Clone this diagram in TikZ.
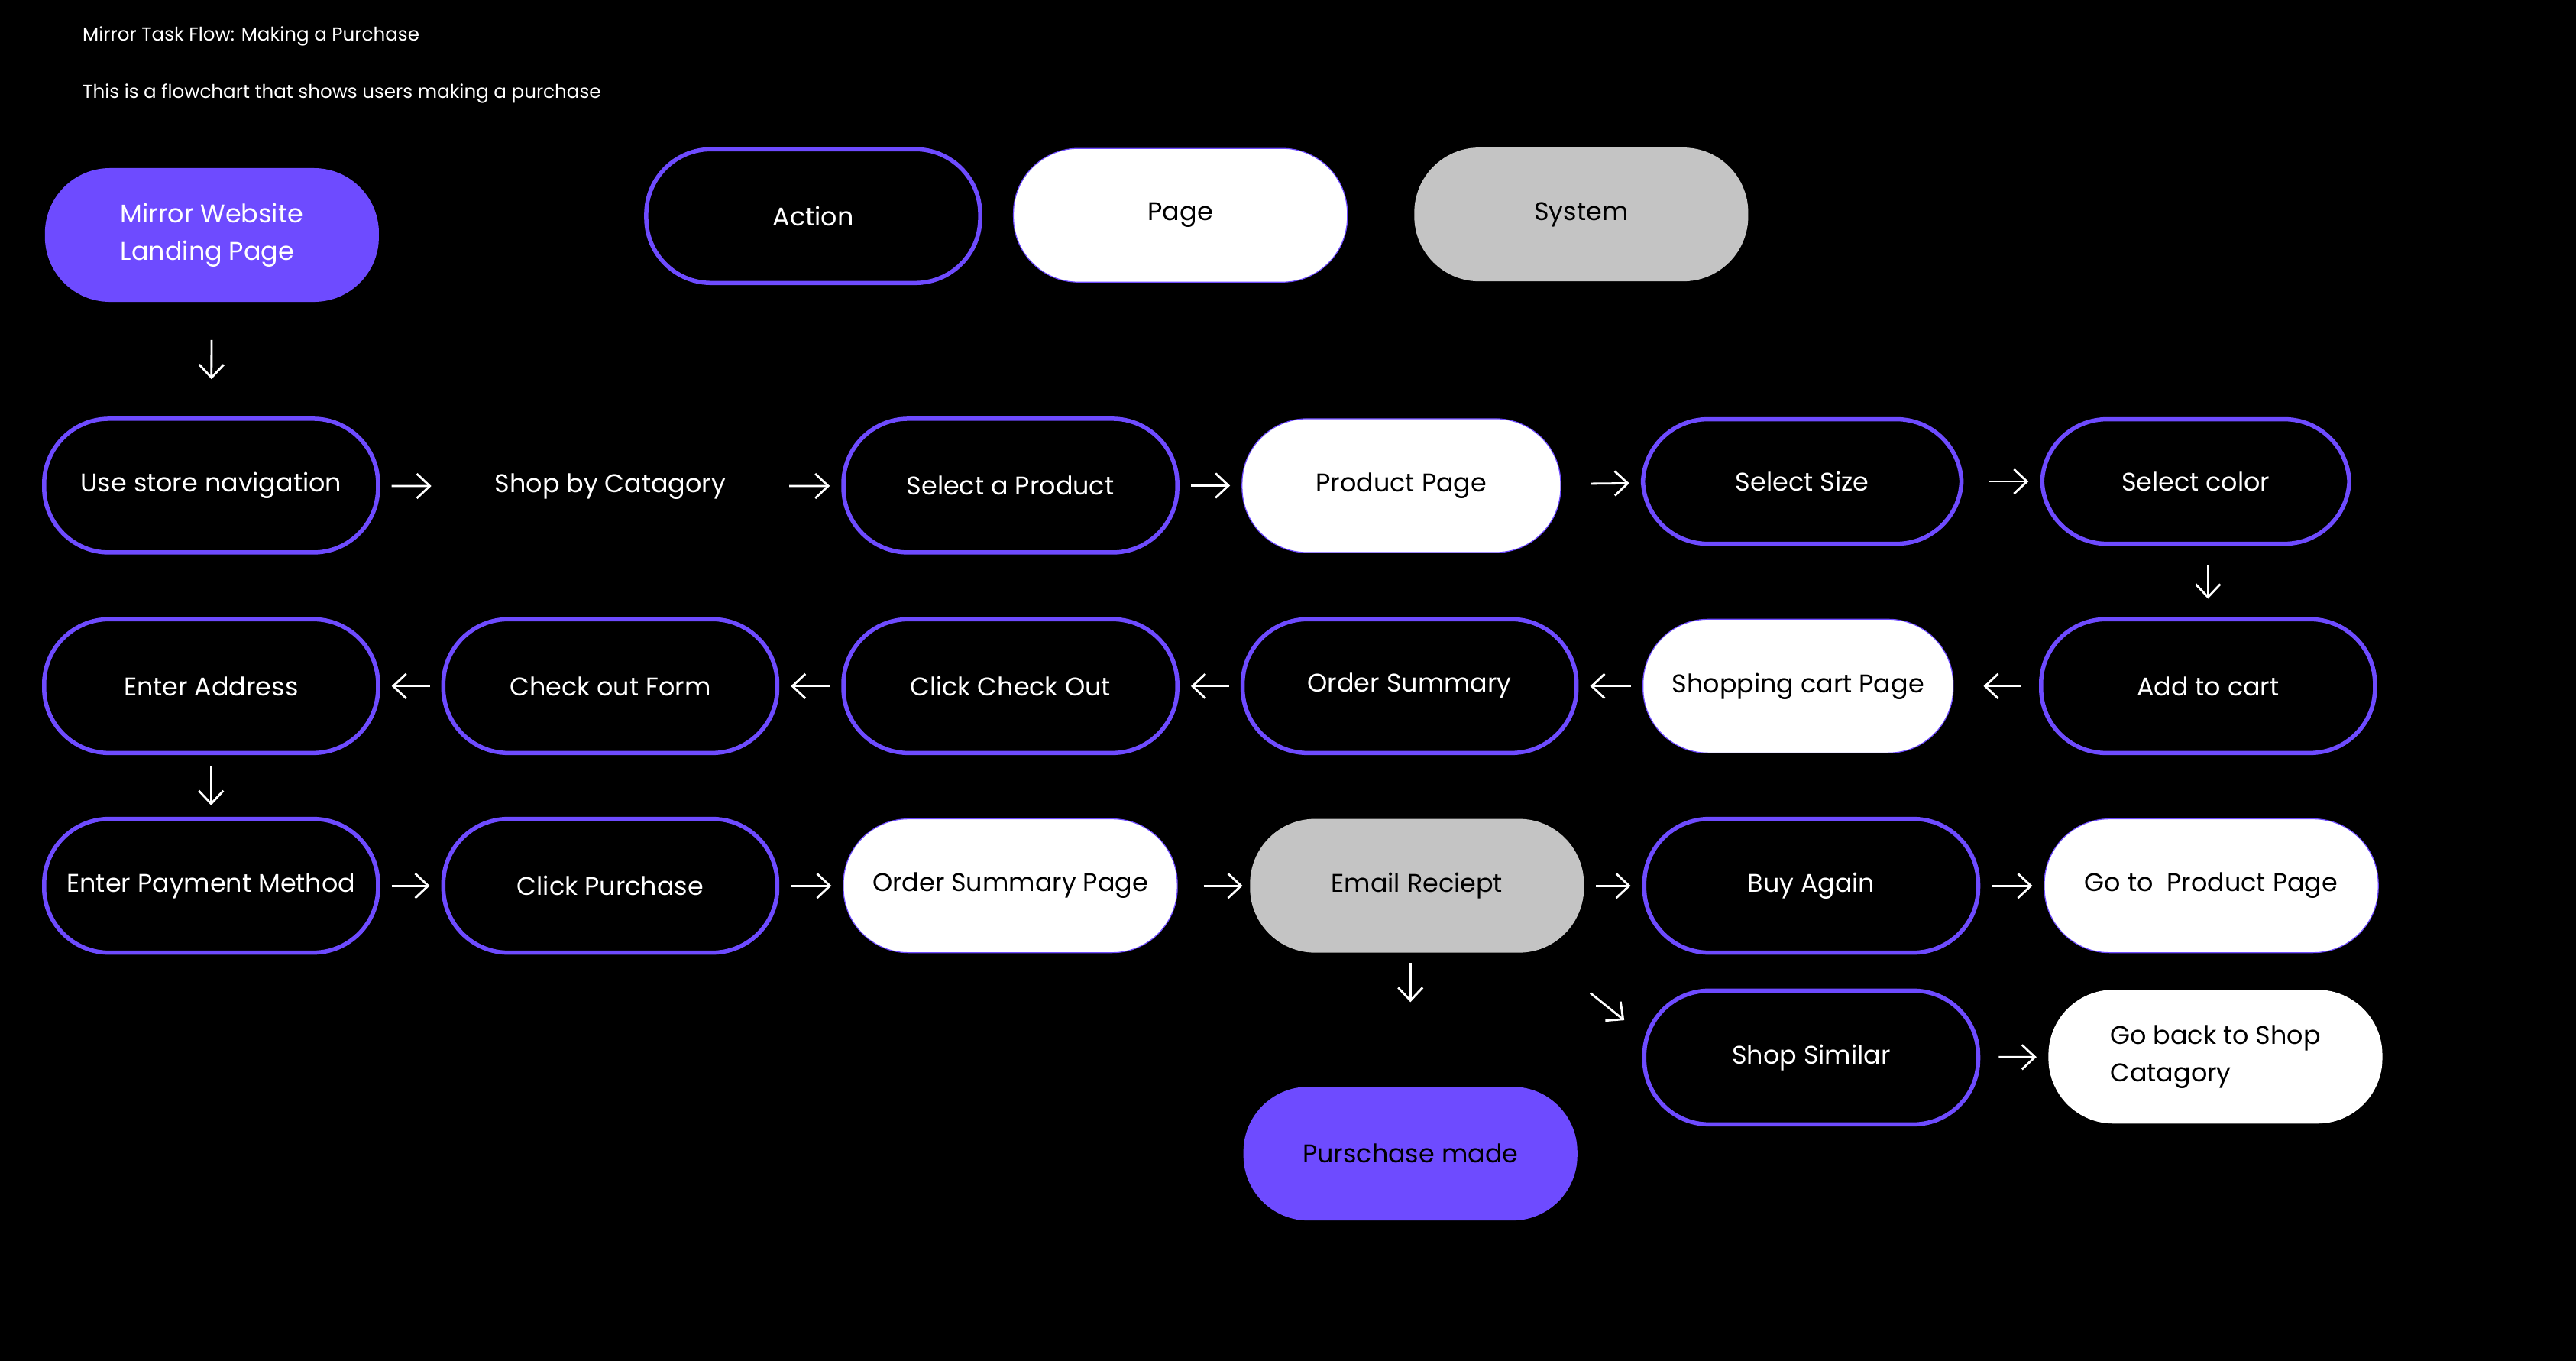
\documentclass[tikz,border=0pt]{standalone}
\usepackage{fontspec}
\setmainfont{Poppins}
\usetikzlibrary{arrows.meta}
\definecolor{mPurple}{HTML}{6E4BFF}
\definecolor{mGray}{HTML}{C4C4C4}

\begin{document}
\begin{tikzpicture}[x=0.021505cm,y=-0.021505cm]
    \tikzset{
        stage/.style={minimum width=4.37cm,minimum height=1.75cm,rounded corners=0.85cm,inner sep=0pt,align=left,font=\fontsize{9.5}{14}\selectfont,text=white},
        action/.style={stage,draw=mPurple,line width=0.055cm,fill=black},
        page/.style={stage,draw=mPurple,line width=0.012cm,fill=white,text=black},
        system/.style={stage,fill=mGray,text=black},
        start/.style={stage,fill=mPurple},
        note/.style={anchor=west,inner sep=0pt,text=white,font=\fontsize{7}{8}\selectfont},
        flow/.style={white,line width=0.028cm,-{Straight Barb[length=0.17cm,width=0.32cm]},shorten <=0.15cm,shorten >=0.15cm}
    };
    \fill[black] (0,0) rectangle (1568,828);
    \node[note] (title) at (50,22) {Mirror Task Flow: Making a Purchase};
    \node[note] (subtitle) at (50,57) {This is a flowchart that shows users making a purchase};

    \node[start] (landing) at (129,143) {Mirror Website\\Landing Page};
    \node[action] (legAction) at (495,131.5) {Action};
    \node[page] (legPage) at (718.5,131) {Page};
    \node[system] (legSystem) at (962.5,130.5) {System};

    \node[action] (nav) at (128.5,295.5) {Use store navigation};
    \node[stage] (shopCat) at (371.5,296) {Shop by Catagory};
    \node[action] (selProduct) at (615,295.5) {Select a Product};
    \node[page,minimum width=4.17cm] (prodPage) at (853,295.5) {Product Page};
    \node[action,minimum width=4.17cm,minimum height=1.63cm] (selSize) at (1097,293) {Select Size};
    \node[action,minimum width=4.02cm,minimum height=1.63cm] (selColor) at (1336.5,293) {Select color};

    \node[action] (address) at (128.5,417.5) {Enter Address};
    \node[action] (form) at (371.5,417.5) {Check out Form};
    \node[action] (checkOut) at (615,417.5) {Click Check Out};
    \node[action] (summary) at (858,417.5) {Order Summary};
    \node[page,minimum width=4.06cm] (cartPage) at (1094.5,417.5) {Shopping cart Page};
    \node[action] (addCart) at (1344,417.5) {Add to cart};

    \node[action] (payment) at (128.5,539) {Enter Payment Method};
    \node[action] (purchase) at (371.5,539) {Click Purchase};
    \node[page] (summaryPage) at (615,539) {Order Summary Page};
    \node[system] (email) at (862.5,539) {Email Reciept};
    \node[action] (buyAgain) at (1102.5,539) {Buy Again};
    \node[page] (goProduct) at (1346,539) {Go to\ \ Product Page};

    \node[action] (similar) at (1102.5,643.5) {Shop Similar};
    \node[page,fill=white,draw=none] (goBack) at (1348.5,643) {Go back to Shop\\Catagory};
    \node[start,text=black] (made) at (858.5,702) {Purschase made};

    \draw[flow,shorten <=0.49cm,shorten >=0.49cm] (landing) -- (nav);
    \draw[flow] (nav) -- (shopCat);
    \draw[flow] (shopCat) -- (selProduct);
    \draw[flow] (selProduct) -- (prodPage);
    \draw[flow,shorten <=0.39cm] (prodPage) -- (selSize);
    \draw[flow,shorten <=0.34cm] (selSize) -- (selColor);
    \draw[flow,shorten <=0.26cm,shorten >=0.24cm] (selColor.south -| addCart.north) -- (addCart.north);
    \draw[flow,shorten <=0.24cm,shorten >=0.39cm] (addCart) -- (cartPage);
    \draw[flow] (cartPage) -- (summary);
    \draw[flow] (summary) -- (checkOut);
    \draw[flow] (checkOut) -- (form);
    \draw[flow] (form) -- (address);
    \draw[flow] (address) -- (payment);
    \draw[flow] (payment) -- (purchase);
    \draw[flow] (purchase) -- (summaryPage);
    \draw[flow,shorten <=0.34cm,shorten >=0.09cm] (summaryPage) -- (email);
    \draw[flow] (email) -- (buyAgain);
    \draw[flow] (buyAgain) -- (goProduct);
    \draw[flow,shorten <=0.1cm,shorten >=0.3cm] ([yshift=-0.46cm]email.south east) -- ([yshift=0.3cm]similar.west);
    \draw[flow,shorten <=0.24cm] (similar) -- (goBack);
    \draw[flow,shorten <=0.13cm,shorten >=1.1cm] (email.south -| made.north) -- (made.north);
\end{tikzpicture}
\end{document}
